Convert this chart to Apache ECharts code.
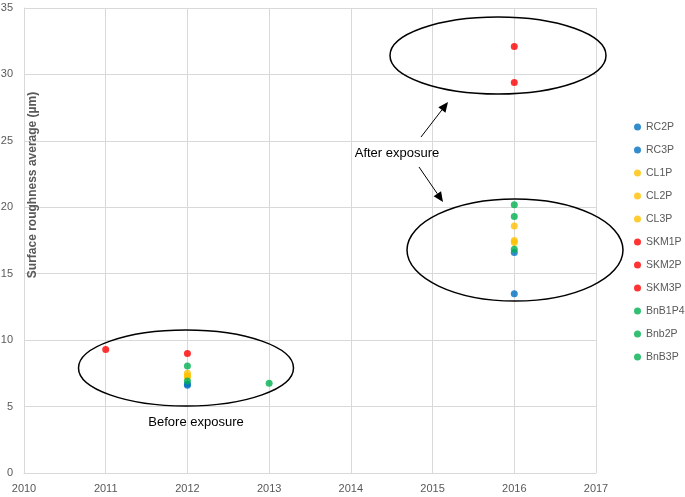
<!DOCTYPE html>
<html>
<head>
<meta charset="utf-8">
<script src="https://cdn.jsdelivr.net/npm/echarts@6/dist/echarts.min.js"></script>
<style>html,body{margin:0;padding:0;background:#fff}#c{width:685px;height:497px}</style>
</head>
<body>
<div id="c"></div>
<script>
// ---- data ----
const seriesNames = ['RC2P','RC3P','CL1P','CL2P','CL3P','SKM1P','SKM2P','SKM3P','BnB1P4','Bnb2P','BnB3P'];
const seriesColors = ['#0070C0','#0070C0','#FFC000','#FFC000','#FFC000','#FF0000','#FF0000','#FF0000','#00B050','#00B050','#00B050'];
const seriesYears = [
  [2012, 2016], [2012, 2016], [2012, 2016], [2012, 2016], [2012, 2016],
  [2011, 2016], [2012, 2016], [], [2012, 2016], [2012, 2016], [2013, 2016]
];
const seriesValues = [
  [6.6, 16.6], [6.7, 13.5], [7.5, 18.6], [7.25, 17.5], [7.3, 17.35],
  [9.3, 32.1], [9.0, 29.4], [], [8.05, 20.2], [6.92, 19.3], [6.75, 16.85]
];
const xTicks = [2010, 2011, 2012, 2013, 2014, 2015, 2016, 2017];
const yTicks = [0, 5, 10, 15, 20, 25, 30, 35];
const xTitle = 'Year of measurement';
const yTitle = 'Surface roughness average (µm)';
const noteBefore = 'Before exposure';
const noteAfter = 'After exposure';

const FONT = "'Liberation Sans', Arial, sans-serif";
const GRAY = '#595959';
const GRID = '#d9d9d9';

function arrow(x1, y1, x2, y2) {
  const ang = Math.atan2(y2 - y1, x2 - x1);
  const L = 10, W = 4.5;
  const bx = x2 - L * Math.cos(ang), by = y2 - L * Math.sin(ang);
  const px = -Math.sin(ang) * W, py = Math.cos(ang) * W;
  return [
    { type: 'line', shape: { x1: x1, y1: y1, x2: bx, y2: by }, style: { stroke: '#000', lineWidth: 1 }, z: 100 },
    { type: 'polygon', shape: { points: [[x2, y2], [bx + px, by + py], [bx - px, by - py]] }, style: { fill: '#000' }, z: 100 }
  ];
}

const chart = echarts.init(document.getElementById('c'), null, { renderer: 'canvas' });
const option = {
  animation: false,
  backgroundColor: '#fff',
  grid: { left: 24, right: 89, top: 8, bottom: 24, containLabel: false, outerBoundsMode: 'none' },
  xAxis: {
    type: 'value', min: xTicks[0], max: xTicks[xTicks.length - 1], interval: 1,
    name: xTitle, nameLocation: 'middle', nameGap: -7,
    nameTextStyle: { color: GRAY, fontFamily: FONT, fontWeight: 'bold', fontSize: 12, verticalAlign: 'middle' },
    axisLine: { show: true, lineStyle: { color: GRID, width: 1 } },
    axisTick: { show: false },
    axisLabel: { color: GRAY, fontFamily: FONT, fontSize: 11, margin: 10, formatter: v => String(v) },
    splitLine: { show: true, lineStyle: { color: GRID, width: 1 } }
  },
  yAxis: {
    type: 'value', min: yTicks[0], max: yTicks[yTicks.length - 1], interval: 5,
    axisLine: { show: true, lineStyle: { color: GRID, width: 1 } },
    axisTick: { show: false },
    axisLabel: { color: GRAY, fontFamily: FONT, fontSize: 11, margin: 11, formatter: v => String(v) },
    splitLine: { show: true, lineStyle: { color: GRID, width: 1 } }
  },
  legend: {
    orient: 'vertical', left: 629, top: 115, itemGap: 9, width: 60,
    itemWidth: 7, itemHeight: 7, icon: 'circle',
    textStyle: { color: GRAY, fontFamily: FONT, fontSize: 10.5, lineHeight: 14, overflow: 'none' },
    data: seriesNames
  },
  series: seriesNames.map((n, i) => ({
    name: n, type: 'scatter', symbol: 'circle', symbolSize: 7,
    itemStyle: { color: seriesColors[i] },
    data: seriesYears[i].map((y, j) => [y, seriesValues[i][j]])
  })),
  graphic: [
    { type: 'ellipse', shape: { cx: 186, cy: 368, rx: 107.5, ry: 38 }, style: { fill: 'none', stroke: '#000', lineWidth: 1.5 }, z: 100 },
    { type: 'ellipse', shape: { cx: 498, cy: 55.5, rx: 108, ry: 38.5 }, style: { fill: 'none', stroke: '#000', lineWidth: 1.5 }, z: 100 },
    { type: 'ellipse', shape: { cx: 515, cy: 250, rx: 108, ry: 51 }, style: { fill: 'none', stroke: '#000', lineWidth: 1.5 }, z: 100 },
    ...arrow(421, 137, 448, 102),
    ...arrow(419, 167, 443, 202),
    { type: 'text', x: 397, y: 153, style: { text: noteAfter, fill: '#000', font: "13px " + FONT, align: 'center', verticalAlign: 'middle' }, z: 100 },
    { type: 'text', x: 196, y: 422, style: { text: noteBefore, fill: '#000', font: "13px " + FONT, align: 'center', verticalAlign: 'middle' }, z: 100 },
    { type: 'text', x: 33, y: 185, rotation: Math.PI / 2, style: { text: yTitle, fill: GRAY, font: "bold 12px " + FONT, align: 'center', verticalAlign: 'middle' }, z: 100 }
  ]
};
chart.setOption(option);
</script>
</body>
</html>
